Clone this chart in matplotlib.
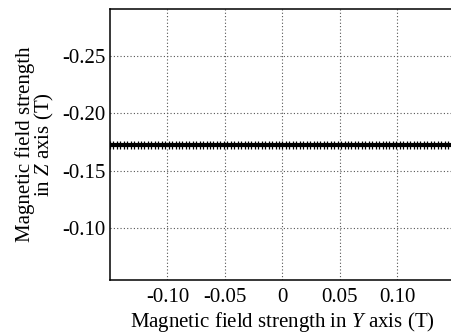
import matplotlib
matplotlib.use("Agg")
import matplotlib.pyplot as plt

plt.rcParams['font.family'] = ['Liberation Serif', 'DejaVu Serif']
plt.rcParams['mathtext.fontset'] = 'custom'
plt.rcParams['mathtext.rm'] = 'Liberation Serif'
plt.rcParams['mathtext.it'] = 'Liberation Serif:italic'

# field in Y axis (mT), sampled along the sweep
by_mT = [-150, -147, -144, -141, -138, -135, -132, -129, -126, -123,
         -120, -117, -114, -111, -108, -105, -102, -99, -96, -93,
         -90, -87, -84, -81, -78, -75, -72, -69, -66, -63,
         -60, -57, -54, -51, -48, -45, -42, -39, -36, -33,
         -30, -27, -24, -21, -18, -15, -12, -9, -6, -3,
         0, 3, 6, 9, 12, 15, 18, 21, 24, 27,
         30, 33, 36, 39, 42, 45, 48, 51, 54, 57,
         60, 63, 66, 69, 72, 75, 78, 81, 84, 87,
         90, 93, 96, 99, 102, 105, 108, 111, 114, 117,
         120, 123, 126, 129, 132, 135, 138, 141, 144, 147, 150]
bz_level = -0.172  # field in Z axis stays flat (T)

xticks = [-0.10, -0.05, 0, 0.05, 0.10]
xticklabels = ['-0.10', '-0.05', '0', '0.05', '0.10']
yticks = [-0.25, -0.20, -0.15, -0.10]
yticklabels = ['-0.25', '-0.20', '-0.15', '-0.10']

by = [v / 1000.0 for v in by_mT]
bz = [bz_level for _ in by]

fig = plt.figure(figsize=(4.52, 3.36), dpi=100)
ax = fig.add_axes([110 / 452, 56 / 336, 345 / 452, 271 / 336])

ax.plot(by, bz, color='black', linewidth=3, marker='|', markersize=6,
        markeredgewidth=0.9)

ax.set_xlim(-0.15, 0.15)
ax.set_ylim(-0.0546, -0.291)

ax.set_xticks(xticks)
ax.set_xticklabels(xticklabels)
ax.set_yticks(yticks)
ax.set_yticklabels(yticklabels)
ax.tick_params(axis='both', which='both', direction='in', length=0,
               labelsize=15)
ax.tick_params(axis='y', pad=3)
ax.tick_params(axis='x', pad=6)
ax.grid(True, linestyle=(0, (1, 2)), color='#555555', linewidth=0.8)

for side in ['left', 'top', 'bottom', 'right']:
    ax.spines[side].set_linewidth(1.1)

ax.set_xlabel('Magnetic field strength in $\\it{Y}$ axis (T)', fontsize=15,
              labelpad=2)
ax.set_ylabel('Magnetic field strength\nin $\\it{Z}$ axis (T)', fontsize=15,
              labelpad=5, linespacing=0.85)

fig.savefig('out.png', dpi=100)
